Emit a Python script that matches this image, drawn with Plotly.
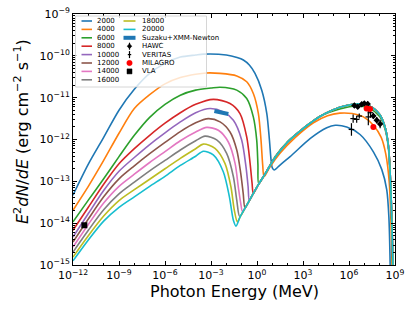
import plotly.graph_objects as go

W, H = 415, 312
L, R, T, B = 73, 395, 14, 265

labels = ["2000", "4000", "6000", "8000", "10000", "12000", "14000", "16000", "18000", "20000"]
colors = ["#1f77b4", "#ff7f0e", "#2ca02c", "#d62728", "#9467bd",
          "#8c564b", "#e377c2", "#7f7f7f", "#bcbd22", "#17becf"]

# log10 photon energy (MeV) grid for the low-energy rise
le_left = [-12, -11, -10, -9, -8, -7, -6, -5, -4]
# log10 E^2 dN/dE on that grid
lf_left = {
    "2000":  [-13.33, -12.59, -11.95, -11.30, -10.80, -10.42, -10.18, -10.03, -9.98],
    "4000":  [-13.69, -13.12, -12.50, -11.85, -11.26, -10.93, -10.67, -10.52, -10.44],
    "6000":  [-13.97, -13.45, -12.94, -12.41, -11.90, -11.47, -11.16, -10.94, -10.82],
    "8000":  [-14.17, -13.62, -13.07, -12.58, -12.22, -11.90, -11.61, -11.36, -11.16],
    "10000": [-14.33, -13.77, -13.22, -12.76, -12.43, -12.12, -11.84, -11.58, -11.36],
    "12000": [-14.45, -13.90, -13.37, -12.94, -12.63, -12.34, -12.07, -11.81, -11.60],
    "14000": [-14.57, -14.03, -13.52, -13.12, -12.83, -12.55, -12.29, -12.03, -11.82],
    "16000": [-14.69, -14.17, -13.68, -13.30, -13.02, -12.75, -12.50, -12.25, -12.03],
    "18000": [-14.81, -14.30, -13.83, -13.46, -13.20, -12.95, -12.70, -12.45, -12.22],
    "20000": [-14.90, -14.40, -13.95, -13.62, -13.37, -13.12, -12.88, -12.62, -12.40],
}

# peak and high-energy parts of each curve
le_2000 = [-3.5, -2.0, -1.3, -0.89, -0.5, -0.13, 0.31, 0.64, 0.81, 0.92, 1.0, 1.12, 1.5, 2.16, 3.46, 4.55, 5.1, 5.85, 6.72, 7.6, 8.14, 8.46, 8.6, 8.7]
lf_2000 = [-9.96, -9.98, -10.04, -10.10, -10.22, -10.42, -10.82, -11.38, -12.01, -12.5, -12.68, -12.73, -12.61, -12.41, -11.98, -11.72, -11.66, -11.70, -11.88, -12.30, -12.72, -13.2, -13.85, -15.3]
le_4000 = [-3.3, -2.41, -1.32, -0.67, -0.24, 0.09, 0.26, 0.37, 0.46, 0.8, 1.5, 2.5, 3.68, 4.6, 5.4, 6.2, 6.94, 7.59, 8.1, 8.4, 8.62, 8.74, 8.82]
lf_4000 = [-10.41, -10.42, -10.48, -10.62, -10.90, -11.38, -12.01, -12.6, -12.89, -12.68, -12.33, -11.95, -11.6, -11.43, -11.37, -11.38, -11.46, -11.66, -11.95, -12.35, -13.0, -14.0, -15.3]
le_6000 = [-3.0, -2.41, -1.32, -0.67, -0.24, -0.02, 0.06, 0.11, 0.5, 1.2, 2.0, 2.8, 4.1, 5.4, 6.5, 7.3, 8.0, 8.35, 8.57, 8.72, 8.8, 8.88]
lf_6000 = [-10.77, -10.75, -10.82, -11.02, -11.46, -12.01, -12.6, -13.05, -12.84, -12.4, -12.05, -11.8, -11.45, -11.27, -11.2, -11.25, -11.45, -11.75, -12.2, -13.2, -14.2, -15.5]
le_8000 = [-2.85, -1.76, -1.11, -0.67, -0.45, -0.32, -0.24]
lf_8000 = [-11.04, -11.14, -11.38, -11.94, -12.57, -13.05, -13.29]
le_10000 = [-3.06, -2.2, -1.54, -1.0, -0.72, -0.58, -0.5]
lf_10000 = [-11.26, -11.34, -11.54, -12.01, -12.65, -13.13, -13.46]
le_12000 = [-3.17, -2.41, -1.76, -1.32, -1.06, -0.9, -0.78]
lf_12000 = [-11.50, -11.58, -11.82, -12.25, -12.81, -13.29, -13.64]
le_14000 = [-3.28, -2.52, -1.87, -1.43, -1.22, -1.06, -0.95]
lf_14000 = [-11.71, -11.78, -12.06, -12.57, -13.13, -13.53, -13.72]
le_16000 = [-3.39, -2.63, -1.98, -1.54, -1.32, -1.13]
lf_16000 = [-11.92, -12.01, -12.33, -12.89, -13.45, -13.84]
le_18000 = [-3.5, -2.74, -2.09, -1.70, -1.48, -1.28]
lf_18000 = [-12.11, -12.21, -12.57, -13.13, -13.69, -13.97]
le_20000 = [-3.5, -2.85, -2.2, -1.8, -1.54, -1.37]
lf_20000 = [-12.28, -12.37, -12.77, -13.37, -13.93, -14.07]

# shared inverse-Compton branch (curves 8000-20000 overlap here)
ic_le = [-1.37, -1.1, -0.78, -0.5, -0.24, 0.09, 0.5, 1.2, 2.0, 2.8, 3.5, 4.1, 5.4, 6.5, 7.3, 8.0, 8.35, 8.57, 8.72, 8.82, 8.9]
ic_lf = [-14.07, -13.85, -13.64, -13.46, -13.29, -13.08, -12.84, -12.42, -12.06, -11.8, -11.6, -11.45, -11.23, -11.15, -11.19, -11.4, -11.7, -12.15, -13.1, -14.3, -15.5]

tail_le = {"2000": le_2000, "4000": le_4000, "6000": le_6000, "8000": le_8000, "10000": le_10000,
           "12000": le_12000, "14000": le_14000, "16000": le_16000, "18000": le_18000, "20000": le_20000}
tail_lf = {"2000": lf_2000, "4000": lf_4000, "6000": lf_6000, "8000": lf_8000, "10000": lf_10000,
           "12000": lf_12000, "14000": lf_14000, "16000": lf_16000, "18000": lf_18000, "20000": lf_20000}
uses_ic = ["8000", "10000", "12000", "14000", "16000", "18000", "20000"]

# observations
suzaku_le = [-2.78, -1.87]
suzaku_lf = [-11.32, -11.39]
hawc_le = [6.35, 6.57, 6.83, 7.0, 7.22, 7.59, 7.81, 8.03]
hawc_lf = [-11.19, -11.22, -11.16, -11.14, -11.15, -11.44, -11.54, -11.63]
hawc_err = [0.05, 0.05, 0.05, 0.05, 0.06, 0.07, 0.08, 0.1]
veritas_le = [6.16, 6.27, 6.5, 6.67, 7.26, 7.4]
veritas_lf = [-11.76, -11.5, -11.52, -11.44, -11.46, -11.36]
veritas_err = [0.15, 0.1, 0.08, 0.06, 0.2, 0.12]
milagro_le = [7.15, 7.37, 7.59]
milagro_lf = [-11.26, -11.27, -11.7]
vla_le = [-11.26]
vla_lf = [-14.05]

p10 = lambda v: [10 ** a for a in v]

fig = go.Figure()
for lab, col in zip(labels, colors):
    le = list(le_left) + list(tail_le[lab])
    lf = list(lf_left[lab]) + list(tail_lf[lab])
    if lab in uses_ic:
        last = le[-1]
        for a, b in zip(ic_le, ic_lf):
            if a > last + 0.05:
                le.append(a); lf.append(b)
    fig.add_trace(go.Scatter(x=p10(le), y=p10(lf), mode="lines", name=lab,
                             line=dict(color=col, width=1.6, shape="spline", smoothing=0.8),
                             showlegend=False))

fig.add_trace(go.Scatter(x=p10(suzaku_le), y=p10(suzaku_lf), mode="lines",
                         line=dict(color="#1f77b4", width=4), showlegend=False))

def errs(lf, e):
    up = [10 ** (a + d) - 10 ** a for a, d in zip(lf, e)]
    dn = [10 ** a - 10 ** (a - d) for a, d in zip(lf, e)]
    return up, dn

u, d = errs(veritas_lf, veritas_err)
fig.add_trace(go.Scatter(x=p10(veritas_le), y=p10(veritas_lf), mode="markers",
                         marker=dict(symbol="line-ew", size=4, color="black",
                                     line=dict(color="black", width=1.2)),
                         error_y=dict(type="data", symmetric=False, array=u, arrayminus=d,
                                      color="black", thickness=1.2, width=0),
                         showlegend=False))
u, d = errs(hawc_lf, hawc_err)
fig.add_trace(go.Scatter(x=p10(hawc_le), y=p10(hawc_lf), mode="markers",
                         marker=dict(symbol="diamond", size=5, color="black"),
                         error_y=dict(type="data", symmetric=False, array=u, arrayminus=d,
                                      color="black", thickness=1.2, width=0),
                         showlegend=False))
fig.add_trace(go.Scatter(x=p10(milagro_le), y=p10(milagro_lf), mode="markers",
                         marker=dict(symbol="circle", size=6, color="red"), showlegend=False))
fig.add_trace(go.Scatter(x=p10(vla_le), y=p10(vla_lf), mode="markers",
                         marker=dict(symbol="square", size=6, color="black"), showlegend=False))

FONT = "DejaVu Sans"

def sup_label(p):
    s = str(abs(p))
    return "10<sup>" + ("\u2212" if p < 0 else "") + s + "</sup>"

x_major = list(range(-12, 10, 3))
x_minor = [k for k in range(-12, 10) if k % 3 != 0]
y_major = list(range(-15, -8))
y_minor = [m * 10 ** k for k in range(-15, -9) for m in range(2, 10)]

axis_common = dict(type="log", showline=True, linecolor="black", linewidth=1, mirror="allticks",
                   ticks="inside", ticklen=4, tickwidth=0.8, tickcolor="black", showgrid=False,
                   zeroline=False, automargin=False,
                   tickfont=dict(family=FONT, size=11, color="black"))
fig.update_xaxes(range=[-12, 9], tickmode="array", tickvals=p10(x_major),
                 ticktext=[sup_label(p) for p in x_major],
                 minor=dict(ticks="inside", ticklen=2, tickwidth=0.6, tickcolor="black",
                            tickmode="array", tickvals=p10(x_minor)), **axis_common)
fig.update_yaxes(range=[-15, -9], tickmode="array", tickvals=p10(y_major),
                 ticktext=[sup_label(p) for p in y_major],
                 minor=dict(ticks="inside", ticklen=2, tickwidth=0.6, tickcolor="black",
                            tickmode="array", tickvals=y_minor), **axis_common)

def px(x):
    return (x - L) / (R - L)

def py(y):
    return (B - y) / (B - T)

shapes = []
annotations = []
# legend frame
shapes.append(dict(type="rect", xref="paper", yref="paper", x0=px(75.5), x1=px(206.5),
                   y0=py(87), y1=py(16), fillcolor="rgba(255,255,255,0.8)",
                   line=dict(color="#cccccc", width=0.8), layer="above"))
row_y = [21 + 8.4 * k for k in range(8)]
col1 = labels[:8]
for lab, col, yy in zip(col1, colors[:8], row_y):
    shapes.append(dict(type="line", xref="paper", yref="paper", x0=px(81.5), x1=px(92),
                       y0=py(yy), y1=py(yy), line=dict(color=col, width=1.6), layer="above"))
    annotations.append(dict(text=lab, xref="paper", yref="paper", x=px(94.5), y=py(yy),
                            xanchor="left", yanchor="middle", showarrow=False,
                            font=dict(family=FONT, size=7, color="black")))
col2 = labels[8:] + ["Suzaku+XMM-Newton", "HAWC", "VERITAS", "MILAGRO", "VLA"]
for i, (lab, yy) in enumerate(zip(col2, row_y)):
    if i < 2:
        shapes.append(dict(type="line", xref="paper", yref="paper", x0=px(123.5), x1=px(135.5),
                           y0=py(yy), y1=py(yy), line=dict(color=colors[8 + i], width=1.6), layer="above"))
    elif lab.startswith("Suzaku"):
        shapes.append(dict(type="line", xref="paper", yref="paper", x0=px(123.5), x1=px(135.5),
                           y0=py(yy), y1=py(yy), line=dict(color="#1f77b4", width=4), layer="above"))
    elif lab == "HAWC":
        shapes.append(dict(type="line", xref="paper", yref="paper", x0=px(129.5), x1=px(129.5),
                           y0=py(yy - 3.5), y1=py(yy + 3.5), line=dict(color="black", width=1.2), layer="above"))
        shapes.append(dict(type="path", xref="paper", yref="paper",
                           path="M {} {} L {} {} L {} {} L {} {} Z".format(px(129.5), py(yy - 2.5), px(131.8), py(yy),
                                                                         px(129.5), py(yy + 2.5), px(127.2), py(yy)),
                           fillcolor="black", line=dict(color="black", width=0.5), layer="above"))
    elif lab == "VERITAS":
        shapes.append(dict(type="line", xref="paper", yref="paper", x0=px(129.5), x1=px(129.5),
                           y0=py(yy - 3.5), y1=py(yy + 3.5), line=dict(color="black", width=1.2), layer="above"))
        shapes.append(dict(type="line", xref="paper", yref="paper", x0=px(127.8), x1=px(131.2),
                           y0=py(yy), y1=py(yy), line=dict(color="black", width=1.2), layer="above"))
    elif lab == "MILAGRO":
        shapes.append(dict(type="circle", xref="paper", yref="paper", x0=px(126.8), x1=px(132.2),
                           y0=py(yy + 2.7), y1=py(yy - 2.7), fillcolor="red", line=dict(color="red", width=0.5),
                           layer="above"))
    elif lab == "VLA":
        shapes.append(dict(type="rect", xref="paper", yref="paper", x0=px(127), x1=px(132),
                           y0=py(yy + 2.5), y1=py(yy - 2.5), fillcolor="black", line=dict(color="black", width=0.5),
                           layer="above"))
    annotations.append(dict(text=lab, xref="paper", yref="paper", x=px(140), y=py(yy),
                            xanchor="left", yanchor="middle", showarrow=False,
                            font=dict(family=FONT, size=7, color="black")))

annotations.append(dict(text="Photon Energy (MeV)", xref="paper", yref="paper", x=0.5, y=py(291),
                        xanchor="center", yanchor="middle", showarrow=False,
                        font=dict(family=FONT, size=16, color="black")))
annotations.append(dict(text="<i>E</i><sup>2</sup><i>dN</i>/<i>dE</i> (erg cm<sup>\u22122</sup> s<sup>\u22121</sup>)",
                        xref="paper", yref="paper", x=px(21), y=py(132), textangle=-90,
                        xanchor="center", yanchor="middle", showarrow=False,
                        font=dict(family=FONT, size=16, color="black")))

fig.update_layout(template="none", width=W, height=H, margin=dict(l=L, r=W - R, t=T, b=H - B, pad=0),
                  plot_bgcolor="white", paper_bgcolor="white", showlegend=False,
                  shapes=shapes, annotations=annotations,
                  font=dict(family=FONT, color="black"))
fig.write_html("out.html", config={"displayModeBar": False},
               post_script="document.body.style.margin='0';document.body.style.padding='0';")
